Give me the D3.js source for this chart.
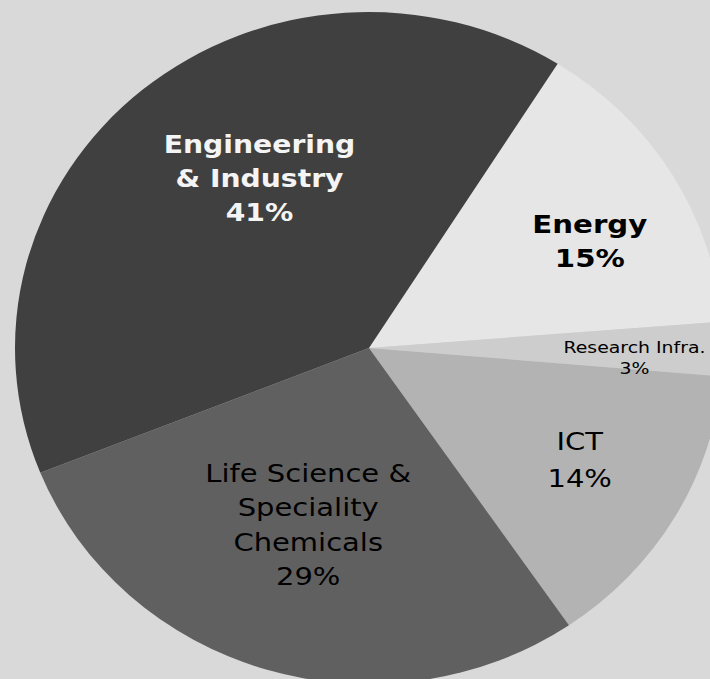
<!DOCTYPE html>
<html>
<head>
<meta charset="utf-8">
<script src="https://cdn.jsdelivr.net/npm/d3@7"></script>
<style>
  body { margin: 0; background: #d9d9d9; }
  svg { display: block; }
</style>
</head>
<body>
<div id="chart"></div>
<script>
const categories = ["Energy", "Research Infra.", "ICT", "Life Science & Speciality Chemicals", "Engineering & Industry"];
const values = [14.8, 2.6, 14.1, 28.5, 40.0];
const pctLabels = ["15%", "3%", "14%", "29%", "41%"];
const nameLines = [["Energy"], ["Research Infra."], ["ICT"], ["Life Science &", "Speciality", "Chemicals"], ["Engineering", "& Industry"]];

const colors = ["#e6e6e6", "#cdcdcd", "#b3b3b3", "#606060", "#404040"];

const WIDTH = 710, HEIGHT = 679;
const CX = 369, CY = 348;
const RX = 354, RY = 336;        // pie is drawn a bit squashed
const START = 32.2 * Math.PI / 180;

// label styling + nudges from the centroid (layout only)
// sx = horizontal stretch, dejavu is narrower than the original (verdana-ish) font
const labelStyle = [
  {size: 25, weight: "bold", fill: "#000", lh: 34, sx: 1.17, dx: 33, dy: 1},
  {size: 16, weight: "normal", fill: "#000", lh: 21, sx: 1.18, dx: 46, dy: 9},
  {size: 25, weight: "normal", fill: "#000", lh: 37, sx: 1.16, dx: 21, dy: 7},
  {size: 25, weight: "normal", fill: "#000", lh: 34.5, sx: 1.16, dx: 3, dy: -23},
  {size: 25, weight: "bold", fill: "#f4f4f4", lh: 34, sx: 1.13, dx: 31, dy: -10}
];

const svg = d3.select("#chart")
  .append("svg")
  .attr("width", WIDTH)
  .attr("height", HEIGHT);

svg.append("rect")
  .attr("width", WIDTH)
  .attr("height", HEIGHT)
  .attr("fill", "#d9d9d9");

const pie = d3.pie()
  .sort(null)
  .value(d => d)
  .startAngle(START)
  .endAngle(START + 2 * Math.PI);

const arcs = pie(values);

const arc = d3.arc().innerRadius(0).outerRadius(RX);
const labelArc = d3.arc().innerRadius(RX * 0.62).outerRadius(RX * 0.62);

const g = svg.append("g")
  .attr("transform", "translate(" + CX + "," + CY + ") scale(1," + (RY / RX) + ")");

g.selectAll("path")
  .data(arcs)
  .enter()
  .append("path")
    .attr("d", arc)
    .attr("fill", (d, i) => colors[i]);

// labels (not squashed with the pie, only stretched a little sideways)
const labels = svg.append("g")
  .attr("font-family", "'DejaVu Sans', Verdana, sans-serif")
  .attr("text-anchor", "middle");

arcs.forEach((d, i) => {
  const st = labelStyle[i];
  const c = labelArc.centroid(d);
  const x = CX + c[0] + st.dx;
  const yc = CY + c[1] * (RY / RX) + st.dy;
  const lines = nameLines[i].concat([pctLabels[i]]);
  const capH = 0.73 * st.size;
  const firstBase = yc - ((lines.length - 1) * st.lh + capH) / 2 + capH;

  const t = labels.append("text")
    .attr("transform", "translate(" + x + ",0) scale(" + st.sx + ",1)")
    .attr("font-size", st.size + "px")
    .attr("font-weight", st.weight)
    .attr("fill", st.fill);

  lines.forEach((ln, j) => {
    t.append("tspan")
      .attr("x", 0)
      .attr("y", firstBase + j * st.lh)
      .text(ln);
  });
});
</script>
</body>
</html>
